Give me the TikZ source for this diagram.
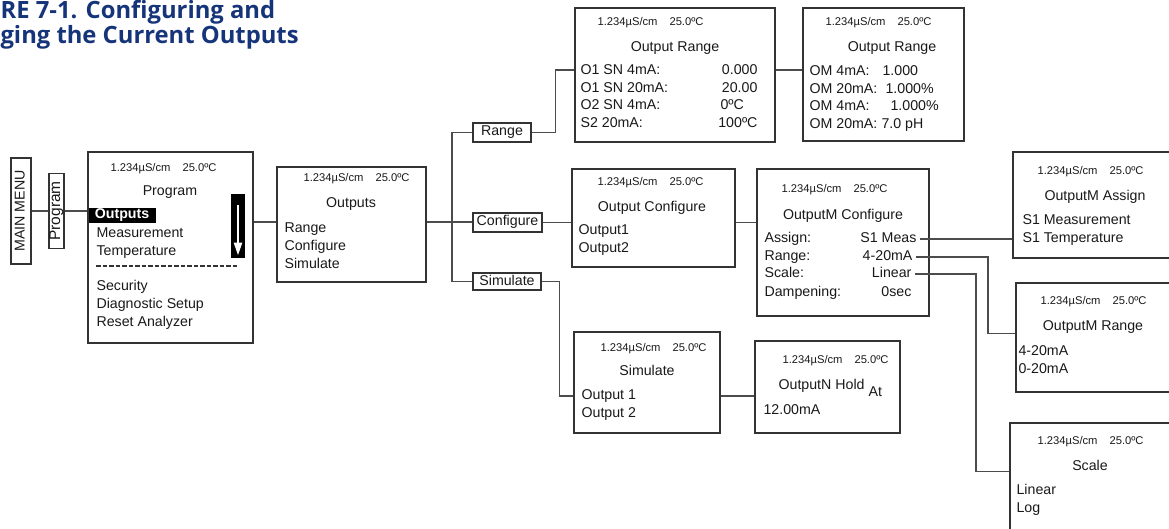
\documentclass[tikz,border=0pt]{standalone}
\usepackage{fontspec}
\setmainfont{Liberation Sans}
\newfontfamily\titlefont{Open Sans}
\usetikzlibrary{arrows.meta}
\definecolor{titleblue}{RGB}{22,52,122}
\newcommand{\hdr}{1.234µS/cm\hskip 12pt 25.0ºC}

\begin{document}
\begin{tikzpicture}
  [x=1pt,y=-1pt,line width=1.1pt,
   every node/.style={inner sep=0pt,text=black!90},
   scr/.style={draw=black!80,rectangle},
   hd/.style={anchor=west,text height=8pt,text depth=2pt,font=\fontsize{11.2}{13}\selectfont},
   ttl/.style={text height=10pt,text depth=3pt,font=\fontsize{14.2}{16}\selectfont},
   txt/.style={ttl,anchor=west},
   val/.style={ttl,anchor=east},
   head/.style={anchor=base west,text=titleblue,font=\titlefont\bfseries\fontsize{23.8}{26}\selectfont},
   wire/.style={draw=black!70}]
  \clip (0,0) rectangle (1169,529);

  \node[head] (t1) at (0,19) {RE 7-1. Configuring and};
  \node[head] (t2) at (0,44) {ging the Current Outputs};

  \node[scr,ttl,rotate=90,minimum width=106,minimum height=20] (menu) at (21,211) {MAIN MENU};
  \node[scr,ttl,rotate=90,minimum width=75,minimum height=15,font=\fontsize{15.5}{17}\selectfont] (prg) at (56.5,211) {Program};

  % program screen
  \node[scr,minimum width=165,minimum height=191] (sprog) at (170.5,247.5) {};
  \node[hd] (h1) at (110,169) {\hdr};
  \node[ttl] (p0) at (170,192) {Program};
  \node[fill=black,text=white,anchor=west,minimum width=67,minimum height=15,text height=10pt,text depth=3pt,font=\bfseries\fontsize{14.2}{16}\selectfont] (hl) at (88,215.5) {Outputs};
  \node[txt] (p2) at (96,234) {Measurement};
  \node[txt] (p3) at (96,252) {Temperature};
  \draw[black!80,line width=1.3pt,dash pattern=on 4.5pt off 2pt] (96,266) -- (238,266);
  \node[txt] (p4) at (96,287) {Security};
  \node[txt] (p5) at (96,305) {Diagnostic Setup};
  \node[txt] (p6) at (96,323) {Reset Analyzer};
  \node[fill=black,minimum width=14,minimum height=64] (scroll) at (238,226) {};
  \draw[white,line width=2.5pt,-{Triangle[width=8pt,length=13pt]}] ([yshift=-12pt]scroll.north) -- ([yshift=3pt]scroll.south);

  % outputs screen
  \node[scr,minimum width=149,minimum height=115] (sout) at (351.5,224.5) {};
  \node[hd] (h2) at (303,179) {\hdr};
  \node[ttl] (o0) at (351,204) {Outputs};
  \node[txt] (o1) at (284,229) {Range};
  \node[txt] (o2) at (284,247) {Configure};
  \node[txt] (o3) at (284,265) {Simulate};

  \node[scr,ttl,minimum width=58,minimum height=19] (range) at (502,132.5) {Range};
  \node[scr,ttl,minimum width=69,minimum height=19] (conf) at (507.5,222.5) {Configure};
  \node[scr,ttl,minimum width=68,minimum height=17] (sim) at (507,281.5) {Simulate};

  % output range screens
  \node[scr,minimum width=200,minimum height=134] (sor1) at (675,75) {};
  \node[hd] (h3) at (597,23) {\hdr};
  \node[ttl] (r0) at (675,48) {Output Range};
  \node[txt] (r1) at (580,71) {O1 SN 4mA:};
  \node[txt] (r2) at (580,89) {O1 SN 20mA:};
  \node[txt] (r3) at (580,106) {O2 SN 4mA:};
  \node[txt] (r4) at (580,124) {S2 20mA:};
  \node[val] (rv1) at (758,71) {0.000};
  \node[val] (rv2) at (758,89) {20.00};
  \node[txt] (rv3) at (720,106) {0ºC};
  \node[val] (rv4) at (758,124) {100ºC};

  \node[scr,minimum width=161,minimum height=133] (sor2) at (883.5,74.5) {};
  \node[hd] (h4) at (825,23) {\hdr};
  \node[ttl] (m0) at (892,48) {Output Range};
  \node[txt] (m1) at (809,72) {OM 4mA:};
  \node[txt] (m2) at (809,90) {OM 20mA:};
  \node[txt] (m3) at (809,107) {OM 4mA:};
  \node[txt] (m4) at (809,125) {OM 20mA:};
  \node[txt] (mv1) at (882,72) {1.000};
  \node[txt] (mv2) at (885,90) {1.000\%};
  \node[txt] (mv3) at (890,107) {1.000\%};
  \node[txt] (mv4) at (881,125) {7.0 pH};

  % configure screens
  \node[scr,minimum width=163,minimum height=98] (socf) at (653.5,218) {};
  \node[hd] (h5) at (597,183) {\hdr};
  \node[ttl] (c0) at (652,208) {Output Configure};
  \node[txt] (c1) at (578,231) {Output1};
  \node[txt] (c2) at (578,249) {Output2};

  \node[scr,minimum width=172,minimum height=147] (smcf) at (843,242.5) {};
  \node[hd] (h6) at (781,190) {\hdr};
  \node[ttl] (cf0) at (843,216) {OutputM Configure};
  \node[txt] (cf1) at (764,239) {Assign:};
  \node[txt] (cf2) at (764,257) {Range:};
  \node[txt] (cf3) at (764,274) {Scale:};
  \node[txt] (cf4) at (764,293) {Dampening:};
  \node[val] (cv1) at (917,239) {S1 Meas};
  \node[val] (cv2) at (913,257) {4-20mA};
  \node[val] (cv3) at (912,274) {Linear};
  \node[val] (cv4) at (912,293) {0sec};

  \node[scr,minimum width=167,minimum height=106] (sasg) at (1096.5,205) {};
  \node[hd] (h7) at (1037,172) {\hdr};
  \node[ttl] (a0) at (1095,197) {OutputM Assign};
  \node[txt] (a1) at (1022,221) {S1 Measurement};
  \node[txt] (a2) at (1022,239) {S1 Temperature};

  \node[scr,minimum width=164,minimum height=109] (smrg) at (1098,337.5) {};
  \node[hd] (h8) at (1040,301) {\hdr};
  \node[ttl] (g0) at (1093,327) {OutputM Range};
  \node[txt] (g1) at (1018,352) {4-20mA};
  \node[txt] (g2) at (1018,370) {0-20mA};

  \node[scr,minimum width=170,minimum height=117] (sscl) at (1095,481.5) {};
  \node[hd] (h9) at (1037,441) {\hdr};
  \node[ttl] (l0) at (1090,467) {Scale};
  \node[txt] (l1) at (1016,491) {Linear};
  \node[txt] (l2) at (1016,509) {Log};

  % simulate screens
  \node[scr,minimum width=146,minimum height=101] (ssim) at (647,382.5) {};
  \node[hd] (h10) at (600,348) {\hdr};
  \node[ttl] (s0) at (647,372) {Simulate};
  \node[txt] (so1) at (581,396) {Output 1};
  \node[txt] (so2) at (581,414) {Output 2};

  \node[scr,minimum width=145,minimum height=92] (shold) at (827.5,387) {};
  \node[hd] (h11) at (782,360) {\hdr};
  \node[txt] (n0) at (778,386) {OutputN Hold};
  \node[txt] (n1) at (868,393) {At};
  \node[txt] (n2) at (763,411) {12.00mA};

  \coordinate (bus) at (452,222);
  \draw[wire] (menu.south) -- (prg.north);
  \draw[wire] (prg.south) -- (prg.south -| sprog.west);
  \draw[wire] (sprog.east |- bus) -- (sout.west |- bus);
  \draw[wire] (sout.east |- bus) -- (bus) -- (conf.west |- bus);
  \draw[wire] (range.west) -- (range.west -| bus) -- (sim.west -| bus) -- (sim.west);
  \draw[wire] (range.east) -- ++(24,0) |- ([yshift=5pt]sor1.west);
  \draw[wire] ([yshift=5pt]sor1.east) -- ([yshift=5pt]sor1.east -| sor2.west);
  \draw[wire] (conf.east) -- (conf.east -| socf.west);
  \draw[wire] (conf.east -| socf.east) -- (conf.east -| smcf.west);
  \draw[wire] (sim.east) -- ++(18,0) |- (so1 -| ssim.west);
  \draw[wire] (so1 -| ssim.east) -- (so1 -| shold.west);
  \draw[wire] ([xshift=3pt]cv1.east) -- (cv1 -| sasg.west);
  \draw[wire] ([xshift=3pt]cv2.east) -- ++(72,0) |- ([yshift=4pt]smrg.west);
  \draw[wire] ([xshift=3pt]cv3.east) -- ++(61,0) |- ([yshift=10pt]sscl.west);
\end{tikzpicture}
\end{document}
